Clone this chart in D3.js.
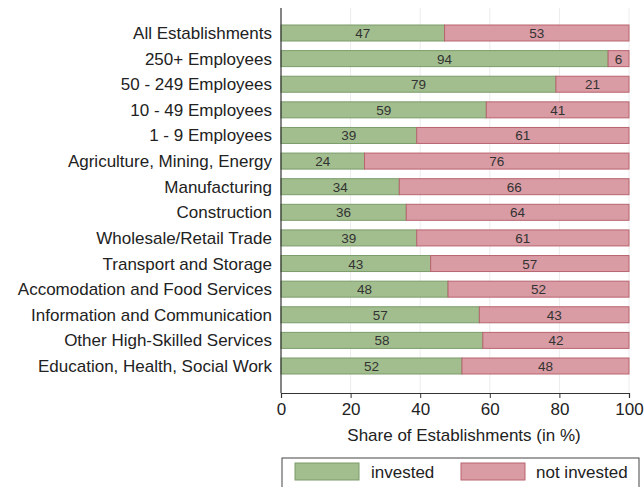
<!DOCTYPE html>
<html>
<head>
<meta charset="utf-8">
<script src="https://cdn.jsdelivr.net/npm/d3@7"></script>
<style>
  body { margin: 0; background: #fff; }
  svg { font-family: "Liberation Sans", Arial, sans-serif; }
</style>
</head>
<body>
<svg id="chart"></svg>
<script>
const categories = [
  'All Establishments', '250+ Employees', '50 - 249 Employees', '10 - 49 Employees',
  '1 - 9 Employees', 'Agriculture, Mining, Energy', 'Manufacturing', 'Construction',
  'Wholesale/Retail Trade', 'Transport and Storage', 'Accomodation and Food Services',
  'Information and Communication', 'Other High-Skilled Services', 'Education, Health, Social Work'
];
const invested = [47, 94, 79, 59, 39, 24, 34, 36, 39, 43, 48, 57, 58, 52];
const notInvested = [53, 6, 21, 41, 61, 76, 66, 64, 61, 57, 52, 43, 42, 48];
const xTicks = [0, 20, 40, 60, 80, 100];
const seriesNames = ['invested', 'not invested'];

const width = 644, height = 487;
const margin = { left: 281, right: 629, top: 8, bottom: 393 };

const svg = d3.select('#chart').attr('width', width).attr('height', height);

const x = d3.scaleLinear().domain([0, 100]).range([margin.left, margin.right]);
const y = d3.scalePoint().domain(categories).range([33, 366]);
const barH = 16;

const fill = { invested: '#a2be8e', not: '#d99ba4' };
const stroke = { invested: '#7b9c69', not: '#b8646f' };

// grid
svg.append('g')
  .selectAll('line')
  .data(xTicks.slice(1))
  .enter().append('line')
  .attr('x1', d => x(d)).attr('x2', d => x(d))
  .attr('y1', margin.top).attr('y2', margin.bottom)
  .attr('stroke', '#ececec').attr('stroke-width', 1);

const rows = categories.map((c, i) => ({ cat: c, a: invested[i], b: notInvested[i] }));

const g = svg.append('g');
g.selectAll('rect.inv')
  .data(rows)
  .enter().append('rect')
  .attr('class', 'inv')
  .attr('x', x(0))
  .attr('y', d => y(d.cat) - barH / 2)
  .attr('width', d => x(d.a) - x(0))
  .attr('height', barH)
  .attr('fill', fill.invested)
  .attr('stroke', stroke.invested);

g.selectAll('rect.not')
  .data(rows)
  .enter().append('rect')
  .attr('class', 'not')
  .attr('x', d => x(d.a))
  .attr('y', d => y(d.cat) - barH / 2)
  .attr('width', d => x(d.a + d.b) - x(d.a))
  .attr('height', barH)
  .attr('fill', fill.not)
  .attr('stroke', stroke.not);

g.selectAll('text.vi')
  .data(rows)
  .enter().append('text')
  .attr('class', 'vi')
  .attr('x', d => x(d.a / 2))
  .attr('y', d => y(d.cat) + 5)
  .attr('text-anchor', 'middle')
  .attr('font-size', 13.5)
  .attr('fill', '#333')
  .text(d => d.a);

g.selectAll('text.vn')
  .data(rows)
  .enter().append('text')
  .attr('class', 'vn')
  .attr('x', d => x(d.a + d.b / 2))
  .attr('y', d => y(d.cat) + 5)
  .attr('text-anchor', 'middle')
  .attr('font-size', 13.5)
  .attr('fill', '#333')
  .text(d => d.b);

// category labels
svg.append('g')
  .selectAll('text')
  .data(categories)
  .enter().append('text')
  .attr('x', 272)
  .attr('y', d => y(d) + 6)
  .attr('text-anchor', 'end')
  .attr('font-size', 17)
  .attr('fill', '#222')
  .text(d => d);

// axes
svg.append('line')
  .attr('x1', margin.left).attr('x2', margin.left)
  .attr('y1', margin.top).attr('y2', margin.bottom)
  .attr('stroke', '#333').attr('stroke-width', 1.2);

const xAxis = d3.axisBottom(x).tickValues(xTicks).tickSize(5).tickFormat(d3.format('d'));
const ax = svg.append('g')
  .attr('transform', `translate(0, ${margin.bottom})`)
  .call(xAxis);
ax.select('.domain').attr('stroke', '#333').attr('stroke-width', 1.2);
ax.selectAll('.tick line').attr('stroke', '#333');
ax.selectAll('.tick text')
  .attr('font-size', 17)
  .attr('fill', '#222')
  .attr('dy', '0.85em')
  .style('font-family', '"Liberation Sans", Arial, sans-serif');

svg.append('text')
  .attr('x', (margin.left + margin.right) / 2 + 9)
  .attr('y', 441)
  .attr('text-anchor', 'middle')
  .attr('font-size', 17)
  .attr('fill', '#222')
  .text('Share of Establishments (in %)');

// legend
const leg = svg.append('g');
leg.append('rect')
  .attr('x', 282).attr('y', 458).attr('width', 357).attr('height', 40)
  .attr('fill', '#fff').attr('stroke', '#444').attr('stroke-width', 1);

const legItems = [
  { name: seriesNames[0], sx: 295, tx: 371, f: fill.invested, s: stroke.invested },
  { name: seriesNames[1], sx: 461, tx: 536, f: fill.not, s: stroke.not }
];
leg.selectAll('rect.sw')
  .data(legItems)
  .enter().append('rect')
  .attr('class', 'sw')
  .attr('x', d => d.sx).attr('y', 463)
  .attr('width', 64).attr('height', 17)
  .attr('fill', d => d.f).attr('stroke', d => d.s);
leg.selectAll('text.lt')
  .data(legItems)
  .enter().append('text')
  .attr('class', 'lt')
  .attr('x', d => d.tx).attr('y', 478)
  .attr('font-size', 17)
  .attr('fill', '#222')
  .text(d => d.name);
</script>
</body>
</html>
